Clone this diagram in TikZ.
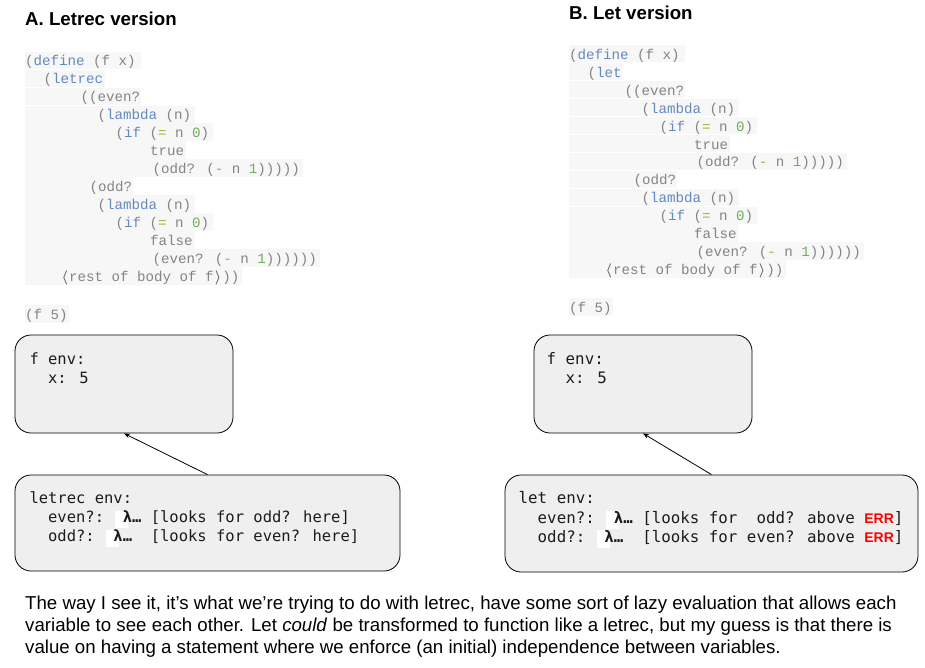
\documentclass[tikz,border=0pt]{standalone}
\usepackage{fontspec}
\setmainfont{Liberation Sans}
\newfontfamily\codefont{Liberation Mono}
\newfontfamily\envfont{DejaVu Sans Mono}
\newfontfamily\errfont{Liberation Sans}
\usetikzlibrary{arrows.meta}
\definecolor{coderowbg}{RGB}{247,247,247}
\definecolor{codetx}{RGB}{132,132,132}
\definecolor{anglecol}{RGB}{90,90,90}
\definecolor{kwblue}{RGB}{98,138,192}
\definecolor{opolive}{RGB}{172,172,60}
\definecolor{numgreen}{RGB}{112,172,92}
\definecolor{envfill}{RGB}{239,239,239}
\definecolor{envtx}{RGB}{28,28,28}
\definecolor{errred}{RGB}{255,0,0}
\newcommand\kwd[1]{\textcolor{kwblue}{#1}}
\newcommand\opc[1]{\textcolor{opolive}{#1}}
\newcommand\numc[1]{\textcolor{numgreen}{#1}}
\newcommand\myla{\makebox[8.5pt]{\textcolor{anglecol}{$\boldsymbol{\langle}$}}}
\newcommand\myra{\makebox[8.5pt]{\textcolor{anglecol}{$\boldsymbol{\rangle}$}}}
\newcommand\lam{{\bfseries λ…}}
\newcommand\err{{\errfont\bfseries\fontsize{14}{14}\selectfont\textcolor{errred}{ERR}}}
\usepackage{amsmath}
\tikzset{
  coderow/.style={fill=coderowbg},
  codeln/.style={anchor=base west, inner sep=0pt, text=codetx, font=\codefont\fontsize{14.17}{18}\selectfont},
  envbox/.style={draw=black, line width=0.8pt, fill=envfill, rounded corners=16pt, inner sep=0pt},
  envlnA/.style={anchor=base west, inner sep=0pt, text=envtx, font=\envfont\fontsize{15.5}{19}\selectfont},
  envlnB/.style={anchor=base west, inner sep=0pt, text=envtx, font=\envfont\fontsize{15.8}{19}\selectfont},
  hilite/.style={fill=white},
  title/.style={anchor=base west, inner sep=0pt, font=\bfseries\fontsize{18.67}{22}\selectfont},
  para/.style={anchor=base west, inner sep=0pt, font=\fontsize{18.67}{22}\selectfont},
  connector/.style={draw=black, line width=0.8pt, -{Stealth[length=6pt,width=4.5pt]}}
}
\newcommand\codeblock[5]{%
\begin{scope}[shift={(#2,#3)}]
\foreach \k/\e in {0/141,1/#5,2/141,3/195,4/213,5/186,6/303,7/133,8/195,9/213,10/195,11/320,12/242}
  {\fill[coderow] (25,{51.7+17.95*\k}) rectangle (\e,{51.7+17.95*\k+17.4});}
\fill[coderow] (25,305) rectangle (69,323);
\node[codeln] (#1c1) at (25,66) {(\kwd{define} (f x)};
\node[codeln] (#1c2) at (43.3,83.95) {(\kwd{#4}};
\node[codeln] (#1c3) at (80.3,101.9) {((even?};
\node[codeln] (#1c4) at (97.3,119.85) {(\kwd{lambda} (n)};
\node[codeln] (#1c5) at (115.3,137.8) {(\kwd{if} (\opc{=} n \numc{0})};
\node[codeln] (#1c6) at (150,155.75) {true};
\node[codeln] (#1c7) at (152.3,173.7) {(odd? (\opc{-} n \numc{1})))))};
\node[codeln] (#1c8) at (89.3,191.65) {(odd?};
\node[codeln] (#1c9) at (97.3,209.6) {(\kwd{lambda} (n)};
\node[codeln] (#1c10) at (115.3,227.55) {(\kwd{if} (\opc{=} n \numc{0})};
\node[codeln] (#1c11) at (150,245.5) {false};
\node[codeln] (#1c12) at (152.3,263.45) {(even? (\opc{-} n \numc{1}))))))};
\node[codeln] (#1c13) at (60.5,281.4) {\myla rest of body of f\myra))};
\node[codeln] (#1c14) at (25,319.3) {(f 5)};
\end{scope}}
\begin{document}
\begin{tikzpicture}[x=1pt,y=-1pt]
\path[use as bounding box, fill=white] (0,0) rectangle (925,668);

% titles
\node[title] (titleA) at (25,26) {A. Letrec version};
\node[title] (titleB) at (569,19.4) {B. Let version};

% code blocks
\codeblock{A}{0}{0}{letrec}{105}
\codeblock{B}{544}{-6.7}{let}{78}

% A environments
\node[envbox, minimum width=218pt, minimum height=98pt] (Afenv) at (124,384) {};
\node[envbox, minimum width=385pt, minimum height=96pt] (Aletenv) at (207.5,523) {};
\node[envlnA] (Af1) at (29.3,364.5) {f env:};
\node[envlnA] (Af2) at (29.3,383.5) {~~x: 5};
\fill[hilite] (115.1,510.5) rectangle (128.2,528);
\fill[hilite] (105.8,529.5) rectangle (118.9,547);
\node[envlnA] (Al1) at (29.3,503.5) {letrec env:};
\node[envlnA] (Al2) at (29.3,522.5) {~~even?:~~\lam~[looks for odd? here]};
\node[envlnA] (Al3) at (29.3,541.5) {~~odd?:~~\lam~~[looks for even? here]};
\draw[connector] (Aletenv.north) -- (Afenv.south);

% B environments
\node[envbox, minimum width=218pt, minimum height=98pt] (Bfenv) at (643,384) {};
\node[envbox, minimum width=413pt, minimum height=97pt] (Bletenv) at (711.5,523.5) {};
\node[envlnB] (Bf1) at (546.5,364.5) {f env:};
\node[envlnB] (Bf2) at (546.5,383.5) {~~x: 5};
\fill[hilite] (606,511) rectangle (619.3,528.5);
\fill[hilite] (596.5,530) rectangle (609.8,548);
\node[envlnB] (Bl1) at (518.5,503.5) {let env:};
\node[envlnB] (Bl2) at (518.5,523) {~~even?:~~\lam~[looks for~~odd? above \err]};
\node[envlnB] (Bl3) at (518.5,542.5) {~~odd?:~~\lam~~[looks for even? above \err]};
\draw[connector] (Bletenv.north) -- (Bfenv.south);

% paragraph
\node[para] (p1) at (25,609) {The way I see it, it’s what we’re trying to do with letrec, have some sort of lazy evaluation that allows each};
\node[para] (p2) at (25,631) {variable to see each other. Let \textit{could} be transformed to function like a letrec, but my guess is that there is};
\node[para] (p3) at (25,653) {value on having a statement where we enforce (an initial) independence between variables.};
\end{tikzpicture}
\end{document}
